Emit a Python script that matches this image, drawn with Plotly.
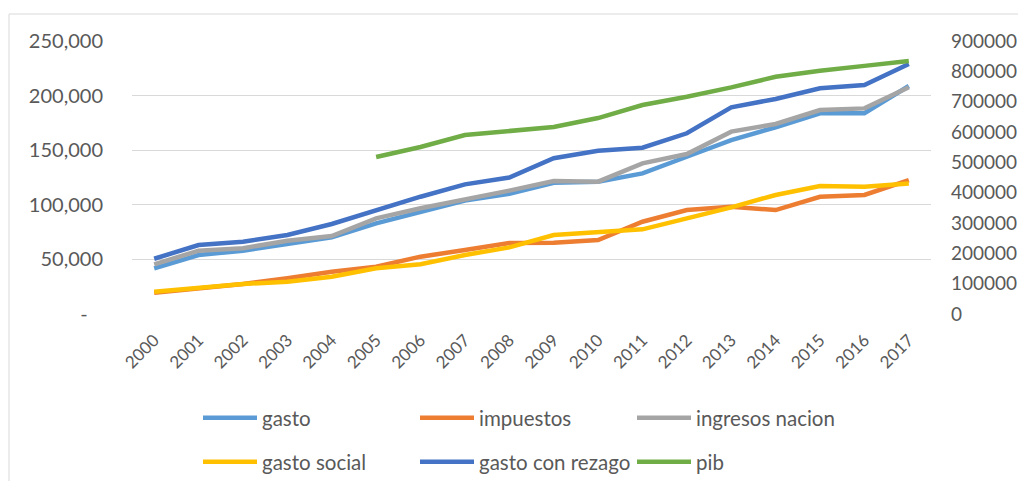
import plotly.graph_objects as go

years = [str(y) for y in range(2000, 2018)]

gasto = [41800, 54000, 58000, 64100, 70200, 83000, 93700, 103800, 110000, 120200,
         121200, 128800, 144000, 159300, 171000, 183800, 183800, 208800]
impuestos = [19500, 23500, 27500, 32700, 38700, 43300, 52500, 58600, 65000, 65300,
             67800, 84500, 95200, 98300, 95200, 107400, 109000, 122700]
ingresos_nacion = [45500, 58000, 60200, 67100, 71400, 87600, 96800, 104400, 113000, 121800,
                   121200, 138000, 146500, 167000, 174000, 186800, 188300, 207600]
gasto_social = [20400, 24400, 27500, 29600, 34200, 41800, 45500, 54000, 61000, 72300,
                75400, 77500, 87600, 97700, 109000, 117200, 116600, 119600]
gasto_con_rezago = [50600, 63200, 66200, 72300, 82400, 95200, 107400, 118700, 125000, 142600,
                    149500, 152300, 165500, 189300, 196900, 206700, 209700, 228900]
pib = [None, None, None, None, None, 517600, 550500, 590000, 605000, 616500,
       646000, 689000, 716000, 747000, 782000, 802000, 818000, 834000]

left_ticks = [0, 50000, 100000, 150000, 200000, 250000]
left_ticktext = ["-\u00a0\u00a0\u00a0", "50,000", "100,000", "150,000", "200,000", "250,000"]
right_ticks = list(range(0, 900001, 100000))

FONT = "Lato, Calibri, Carlito, sans-serif"
TXT = "#595959"
LW = 4.5
W, H = 1010, 473  # page has 8px body margin

series = [
    ("gasto", gasto, "#5B9BD5", "y", "legend"),
    ("impuestos", impuestos, "#ED7D31", "y", "legend"),
    ("ingresos nacion", ingresos_nacion, "#A5A5A5", "y", "legend"),
    ("gasto social", gasto_social, "#FFC000", "y", "legend2"),
    ("gasto con rezago", gasto_con_rezago, "#4472C4", "y", "legend2"),
    ("pib", pib, "#70AD47", "y2", "legend2"),
]

fig = go.Figure()
for name, vals, color, yax, leg in series:
    fig.add_trace(go.Scatter(
        x=years, y=vals, name=name, mode="lines",
        line=dict(color=color, width=LW), yaxis=yax, legend=leg,
        connectgaps=False,
    ))

legend_common = dict(
    orientation="h", xref="container", yref="container",
    xanchor="left", yanchor="middle",
    font=dict(family=FONT, size=20.5, color=TXT),
    entrywidth=148, itemwidth=54, bgcolor="rgba(0,0,0,0)",
    traceorder="normal",
)

fig.update_layout(
    width=W, height=H,
    margin=dict(l=124, r=87, t=33, b=167, autoexpand=False),
    paper_bgcolor="white", plot_bgcolor="white",
    font=dict(family=FONT, size=20, color=TXT),
    xaxis=dict(
        type="category", tickangle=-45, showgrid=False, showline=False,
        zeroline=False, ticks="", tickfont=dict(size=17, color=TXT),
        range=[-0.5, 17.5], ticklabelstandoff=12, automargin=False,
    ),
    yaxis=dict(
        range=[0, 250000], tickvals=left_ticks, ticktext=left_ticktext,
        showgrid=True, gridcolor="#D9D9D9", gridwidth=1, zeroline=False,
        showline=False, ticks="", ticklabelstandoff=28, automargin=False,
        tickfont=dict(size=20, color=TXT),
    ),
    yaxis2=dict(
        range=[0, 900000], tickvals=right_ticks, overlaying="y", side="right",
        showgrid=False, zeroline=False, showline=False, ticks="",
        tickformat="d", ticklabelstandoff=19, automargin=False,
        tickfont=dict(size=19, color=TXT),
    ),
    legend=dict(x=190 / W, y=1 - 410 / H, **legend_common),
    legend2=dict(x=190 / W, y=1 - 454 / H, **legend_common),
    showlegend=True,
    shapes=[dict(
        type="rect", xref="paper", yref="paper",
        x0=(1 - 124) / 799, x1=1.2, y0=-0.8, y1=(306 - 6) / 273,
        line=dict(color="#D9D9D9", width=1), fillcolor="rgba(0,0,0,0)", layer="below",
    )],
)

fig.write_html("out.html")
